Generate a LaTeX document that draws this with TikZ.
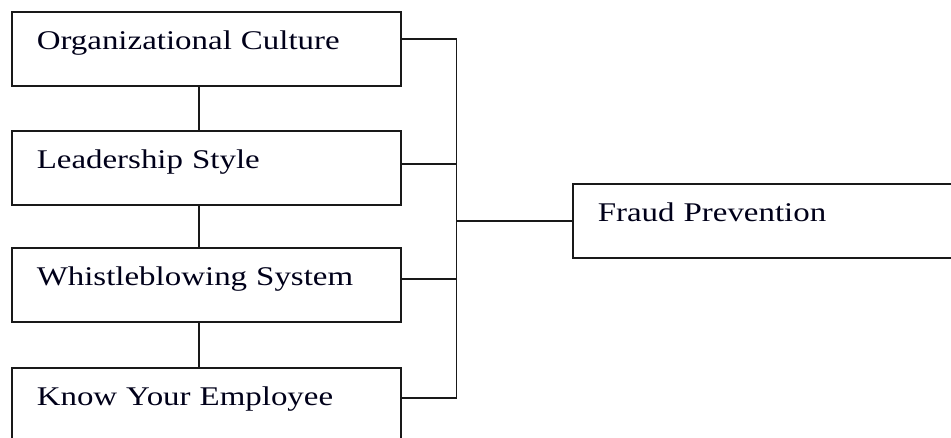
\documentclass[tikz,border=0pt]{standalone}
\usepackage{fontspec}
\setmainfont[FakeStretch=1.22,WordSpace=0.75]{Liberation Serif}
\begin{document}
\begin{tikzpicture}[x=1pt,y=-1pt,
  conn/.style={line width=1.5pt, draw=black!90},
  fbox/.style={draw=black!90, line width=1.5pt, anchor=north west,
    minimum width=389pt, minimum height=74pt, inner xsep=25pt, inner ysep=0pt,
    text width=339pt, align=left, text height=38pt, text depth=36pt,
    text=black!90!blue, font=\fontsize{27}{30}\selectfont}]
\useasboundingbox (0,0) rectangle (951,437);
\clip (0,0) rectangle (951,437);
\node[fbox] (oc) at (11,11) {Organizational Culture};
\node[fbox] (ls) at (11,130) {Leadership Style};
\node[fbox] (ws) at (11,247) {Whistleblowing System};
\node[fbox] (ky) at (11,367) {Know Your Employee};
\node[fbox, minimum width=420pt, text width=370pt] (fp) at (572,183) {Fraud Prevention};
\draw[conn] ([xshift=-7.5pt]oc.south) -- ([xshift=-7.5pt]ls.north);
\draw[conn] ([xshift=-7.5pt]ls.south) -- ([xshift=-7.5pt]ws.north);
\draw[conn] ([xshift=-7.5pt]ws.south) -- ([xshift=-7.5pt]ky.north);
\path ([yshift=7pt]ky.east) ++(55,0) coordinate (bb);
\draw[conn] ([yshift=10pt]oc.east) -| (bb) -- ([yshift=7pt]ky.east);
\draw[conn] ([yshift=4pt]ls.east) -- ([yshift=4pt]ls.east -| bb);
\draw[conn] ([yshift=6pt]ws.east) -- ([yshift=6pt]ws.east -| bb);
\draw[conn] (fp.west) -- (fp.west -| bb);
\end{tikzpicture}
\end{document}
